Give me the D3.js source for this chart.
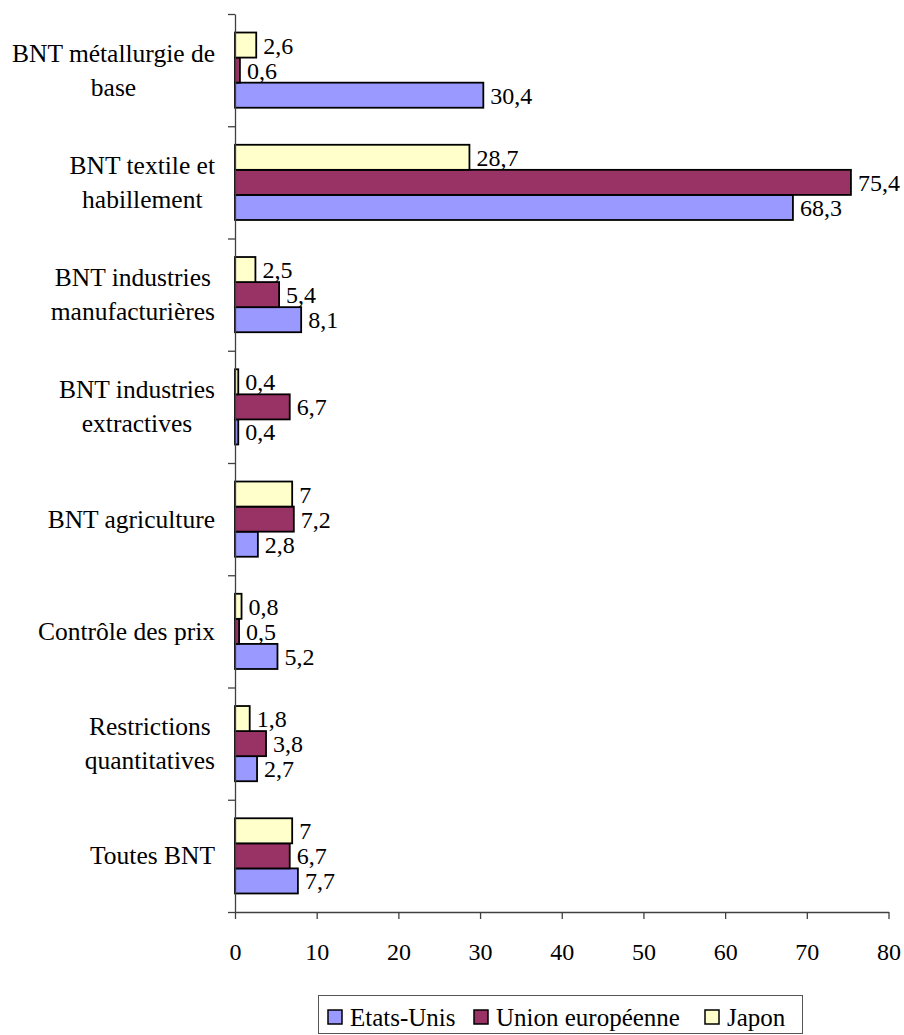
<!DOCTYPE html>
<html>
<head>
<meta charset="utf-8">
<script src="https://cdn.jsdelivr.net/npm/d3@7/dist/d3.min.js"></script>
<style>
  html, body { margin: 0; padding: 0; background: #fff; }
  svg { display: block; }
</style>
</head>
<body>
<svg id="chart" width="904" height="1035"></svg>
<script>
// Categories, top to bottom
const categories = [
  "BNT métallurgie de\nbase",
  "BNT textile et\nhabillement",
  "BNT industries\nmanufacturières",
  "BNT industries\nextractives",
  "BNT agriculture",
  "Contrôle des prix",
  "Restrictions\nquantitatives",
  "Toutes BNT"
];

// Series values, one per category
const etatsUnis       = [30.4, 68.3, 8.1, 0.4, 2.8, 5.2, 2.7, 7.7];
const unionEuropeenne = [0.6, 75.4, 5.4, 6.7, 7.2, 0.5, 3.8, 6.7];
const japon           = [2.6, 28.7, 2.5, 0.4, 7.0, 0.8, 1.8, 7.0];

const seriesNames = ["Etats-Unis", "Union européenne", "Japon"];
const seriesColors = ["#9999FF", "#993366", "#FFFFCC"];

const xTicks = [0, 10, 20, 30, 40, 50, 60, 70, 80];

const series = [
  { name: seriesNames[0], color: seriesColors[0], values: etatsUnis },
  { name: seriesNames[1], color: seriesColors[1], values: unionEuropeenne },
  { name: seriesNames[2], color: seriesColors[2], values: japon }
];

const FONT = "'Liberation Serif', Tinos, 'Times New Roman', 'DejaVu Serif', serif";
const fmt = v => String(v).replace(".", ",");

const svg = d3.select("#chart")
  .attr("font-family", FONT);

const plot = { left: 235, right: 888.5, top: 14, bottom: 912 };

const x = d3.scaleLinear().domain([0, 80]).range([plot.left, plot.right]);

const y = d3.scaleBand()
  .domain(d3.range(categories.length))
  .range([plot.top, plot.bottom])
  .paddingInner(0.33)
  .paddingOuter(0.165);

// Within each group: Japon on top, then UE, then Etats-Unis
const inner = d3.scaleBand()
  .domain([2, 1, 0])
  .range([0, y.bandwidth()]);

// Bars
const groups = svg.append("g")
  .selectAll("g")
  .data(categories.map((c, i) => i))
  .join("g")
  .attr("transform", i => `translate(0,${y(i)})`);

groups.selectAll("rect")
  .data(i => series.map((s, k) => ({ k, v: s.values[i], color: s.color })))
  .join("rect")
  .attr("x", x(0))
  .attr("y", d => inner(d.k))
  .attr("width", d => x(d.v) - x(0))
  .attr("height", inner.bandwidth())
  .attr("fill", d => d.color)
  .attr("stroke", "#000")
  .attr("stroke-width", 1.8);

// Value labels
groups.selectAll("text.val")
  .data(i => series.map((s, k) => ({ k, v: s.values[i] })))
  .join("text")
  .attr("class", "val")
  .attr("x", d => x(d.v) + 7)
  .attr("y", d => inner(d.k) + inner.bandwidth() / 2 + 8.5)
  .attr("font-family", FONT)
  .attr("font-size", 24)
  .text(d => fmt(d.v));

// Category axis: ticks at band boundaries
const boundary = d3.scaleLinear().domain([0, categories.length]).range([plot.top, plot.bottom]);
const yAxis = svg.append("g")
  .attr("transform", `translate(${plot.left},0)`)
  .call(d3.axisLeft(boundary)
    .tickValues(d3.range(0, categories.length + 1))
    .tickFormat("")
    .tickSize(7)
    .tickSizeOuter(0));
yAxis.selectAll("path, line").attr("stroke", "#404040").attr("stroke-width", 1.3);

// Category labels, each block centred on its widest line
const labelRight = 215;
const lineGap = 34;
categories.forEach((c, i) => {
  const lines = c.split("\n");
  const cy = y(i) + y.bandwidth() / 2;
  const t = svg.append("text")
    .attr("font-family", FONT)
    .attr("font-size", 25.5)
    .attr("text-anchor", "middle");
  const spans = lines.map((ln, j) => t.append("tspan")
    .attr("y", cy + 8.5 + (j - (lines.length - 1) / 2) * lineGap)
    .text(ln));
  const maxW = d3.max(spans, s => s.node().getComputedTextLength());
  spans.forEach(s => s.attr("x", labelRight - maxW / 2));
});

// Value axis
const xAxis = svg.append("g")
  .attr("transform", `translate(0,${plot.bottom})`)
  .call(d3.axisBottom(x)
    .tickValues(xTicks)
    .tickFormat(d => d)
    .tickSize(7)
    .tickSizeOuter(0));
xAxis.attr("font-family", FONT);
xAxis.selectAll("path, line").attr("stroke", "#404040").attr("stroke-width", 1.3);
xAxis.selectAll("text")
  .attr("y", 48)
  .attr("dy", 0)
  .attr("font-size", 24)
  .attr("font-family", FONT)
  .attr("fill", "#000");

// Legend
const legend = svg.append("g");
legend.append("rect")
  .attr("x", 318.5).attr("y", 995.5)
  .attr("width", 484).attr("height", 38)
  .attr("fill", "#fff")
  .attr("stroke", "#555").attr("stroke-width", 1);

const legendX = [328, 474, 705];
series.forEach((s, k) => {
  legend.append("rect")
    .attr("x", legendX[k]).attr("y", 1010)
    .attr("width", 14).attr("height", 14)
    .attr("fill", s.color)
    .attr("stroke", "#000").attr("stroke-width", 1.5);
  legend.append("text")
    .attr("x", legendX[k] + 22).attr("y", 1025.5)
    .attr("font-family", FONT)
    .attr("font-size", 25)
    .text(s.name);
});
</script>
</body>
</html>
